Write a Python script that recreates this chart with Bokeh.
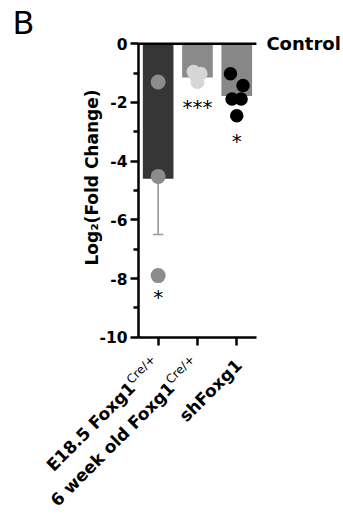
import math
from bokeh.plotting import figure
from bokeh.models import Range1d, FixedTicker
from bokeh.core.properties import value
from bokeh.embed import file_html
from bokeh.resources import INLINE

# ---- data ----
categories = ["E18.5 Foxg1Cre/+", "6 week old Foxg1Cre/+", "shFoxg1"]
label_main = ["E18.5 Foxg1", "6 week old Foxg1", "shFoxg1"]
label_sup = ["Cre/+", "Cre/+", ""]
means = [-4.6, -1.15, -1.78]
err_lower = [1.9, 0.0, 0.0]
points_e185 = [-1.3, -4.52, -7.9]
points_6wk = [-0.95, -1.02, -1.1, -1.3]
points_sh = [-1.02, -1.42, -1.88, -1.88, -2.45]
jitter_e185 = [0.0, 0.0, 0.0]
jitter_6wk = [-0.1, 0.08, -0.03, 0.0]
jitter_sh = [-0.16, 0.16, -0.12, 0.11, 0.0]
stars = ["*", "***", "*"]
star_y = [-8.56, -2.1, -3.24]
y_ticks = [0, -2, -4, -6, -8, -10]
y_tick_labels = ["0", "-2", "-4", "-6", "-8", "-10"]
y_minor = [-1, -3, -5, -7, -9]
y_title = "Log\u2082(Fold Change)"
ref_label = "Control"
panel_letter = "B"

bar_colors = ["#363636", "#8a8a8a", "#878787"]
point_colors = ["#8c8c8c", "#d6d6d6", "#000000"]
point_sizes = [15, 14, 13.5]

FONT = "DejaVu Sans"
n = len(categories)
centers = [i + 0.5 for i in range(n)]
y_lo, y_hi = min(y_ticks), max(y_ticks)

# frame covers nearly the whole canvas; axes are pinned inside it
p = figure(x_range=Range1d(-3.308, 5.165), y_range=Range1d(-15.975, 1.476),
           frame_width=333, frame_height=512,
           min_border_left=8, min_border_right=0,
           min_border_top=0, min_border_bottom=8,
           output_backend="svg", toolbar_location=None)
p.outline_line_color = None
p.grid.visible = False
p.background_fill_color = "white"
p.border_fill_color = "white"

# bars
p.vbar(x=centers, top=means, bottom=0, width=0.78, fill_color=bar_colors, line_color=None)

# error bars (lower only)
for c, m, e in zip(centers, means, err_lower):
    if e > 0:
        p.segment(x0=[c], y0=[m], x1=[c], y1=[m - e], line_color="#9a9a9a", line_width=1.6)
        p.segment(x0=[c - 0.13], y0=[m - e], x1=[c + 0.13], y1=[m - e],
                  line_color="#9a9a9a", line_width=1.6)

# points
for i, (pts, jit) in enumerate(zip([points_e185, points_6wk, points_sh],
                                    [jitter_e185, jitter_6wk, jitter_sh])):
    xs = [centers[i] + j for j in jit]
    p.scatter(x=xs, y=pts, size=point_sizes[i], fill_color=point_colors[i],
              line_color=None, marker="circle")

# significance stars
p.text(x=centers, y=star_y, text=stars, text_align="center", text_baseline="middle",
       y_offset=2, text_font=value(FONT), text_font_size="20px", text_color="#000000")

# zero (control) line
p.segment(x0=[0], y0=[0], x1=[n], y1=[0], line_color="black", line_width=2.5)

# y axis pinned at x=0
ya = p.yaxis[0]
ya.fixed_location = 0
ya.bounds = (y_lo, y_hi)
ya.ticker = FixedTicker(ticks=y_ticks, minor_ticks=y_minor)
ya.major_label_overrides = {t: "" for t in y_ticks}
ya.major_label_text_font_size = "0px"
ya.major_label_standoff = 0
ya.axis_line_width = 2.5
ya.major_tick_line_width = 2.5
ya.minor_tick_line_width = 2.5
ya.major_tick_out = 8
ya.major_tick_in = 0
ya.minor_tick_out = 5
ya.minor_tick_in = 0

# x axis pinned at y=-10
xa = p.xaxis[0]
xa.fixed_location = y_lo
xa.bounds = (0, n)
xa.ticker = FixedTicker(ticks=centers, minor_ticks=[])
xa.major_label_overrides = {c: "" for c in centers}
xa.major_label_text_font_size = "0px"
xa.major_label_standoff = 0
xa.axis_line_width = 2.5
xa.major_tick_line_width = 2.5
xa.major_tick_out = 8
xa.major_tick_in = 0

# y tick labels
p.text(x=[0] * len(y_ticks), y=y_ticks, text=y_tick_labels, x_offset=-11,
       text_align="right", text_baseline="middle", text_font=value(FONT),
       text_font_style="bold", text_font_size="15.5px", text_color="black")

# y axis title
p.text(x=[0], y=[(y_lo + y_hi) / 2], text=[y_title], angle=math.pi / 2,
       x_offset=-47, y_offset=-13, text_align="center", text_baseline="middle",
       text_font=value(FONT), text_font_style="bold", text_font_size="17px",
       text_color="black")

# rotated category labels with superscripts
ang = math.pi / 4
for c, main, sup in zip(centers, label_main, label_sup):
    if sup:
        sx, sy = -5, 20
        p.text(x=[c], y=[y_lo], text=[sup], angle=ang, text_align="right",
               text_baseline="middle", x_offset=sx, y_offset=sy,
               text_font=value(FONT), text_font_size="12px", text_color="black")
        mx, my = sx - 21, sy + 28
    else:
        mx, my = 2, 25
    p.text(x=[c], y=[y_lo], text=[main], angle=ang, text_align="right",
           text_baseline="middle", x_offset=mx, y_offset=my,
           text_font=value(FONT), text_font_style="bold", text_font_size="17px",
           text_color="black")

# Control label
p.text(x=[n], y=[0], text=[ref_label], x_offset=10, text_baseline="middle",
       text_font=value(FONT), text_font_style="bold", text_font_size="18px",
       text_color="black")

# panel letter
p.text(x=[0], y=[0], text=[panel_letter], x_offset=-126, y_offset=-40,
       text_baseline="top", text_font=value(FONT), text_font_size="32px",
       text_color="black")

open("out.html", "w").write(file_html(p, INLINE))
